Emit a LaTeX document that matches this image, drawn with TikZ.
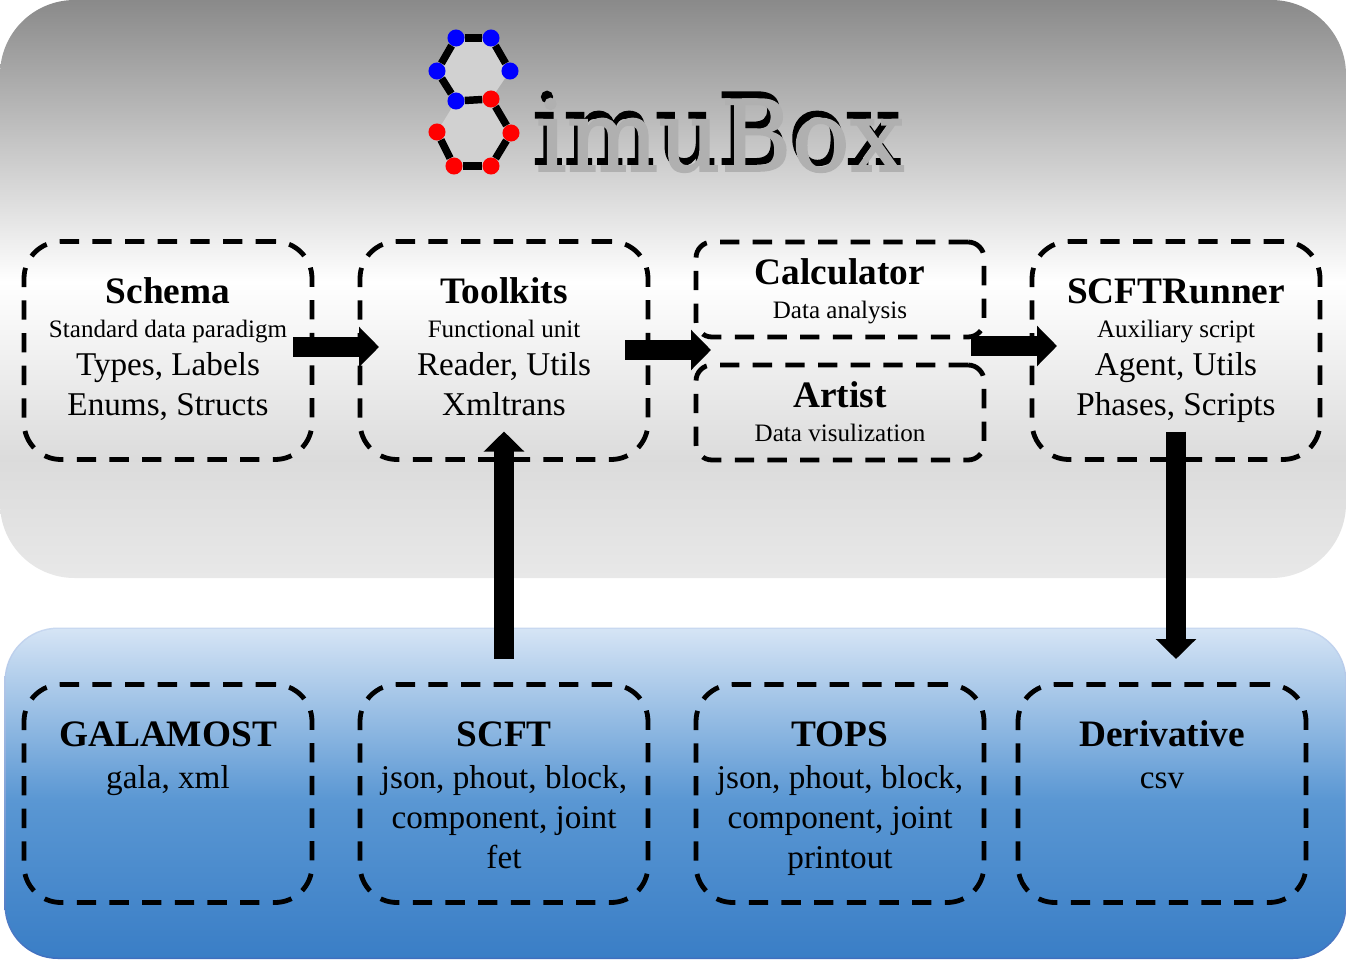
\documentclass[tikz,border=0pt]{standalone}
\usepackage{fontspec}
\setmainfont{Liberation Serif}
\newfontfamily\logofont[FakeBold=1.6]{DejaVu Serif}
\usetikzlibrary{arrows.meta}
\newcommand{\boxtitle}[1]{{\fontsize{28}{30}\bfseries\selectfont\vphantom{hl}#1}}
\newcommand{\boxsmall}[1]{{\fontsize{18.8}{30}\selectfont #1}}
\definecolor{blue1}{HTML}{D5E4F5}
\definecolor{blue2}{HTML}{5A97D3}
\definecolor{blue3}{HTML}{3A7EC6}
\definecolor{edge1}{HTML}{C8D8F0}
\definecolor{edge2}{HTML}{3F6FBF}
\pgfdeclareverticalshading{toppanel}{100bp}{
	color(0bp)=(white!91!black);
	color(25bp)=(white!91!black);
	color(35.2bp)=(white!86!black);
	color(50.6bp)=(white);
	color(75bp)=(white!54!black);
	color(100bp)=(white!54!black)}
\pgfdeclareverticalshading{bottompanel}{100bp}{
	color(0bp)=(blue3);
	color(25bp)=(blue3);
	color(49bp)=(blue2);
	color(75bp)=(blue1);
	color(100bp)=(blue1)}
\pgfdeclareverticalshading{bottomedge}{100bp}{
	color(0bp)=(edge2);
	color(25bp)=(edge2);
	color(75bp)=(edge1);
	color(100bp)=(edge1)}
\begin{document}
\begin{tikzpicture}[x=.75pt,y=-.75pt,
	dashbox/.style={draw,outer sep=0pt,line width=3.6pt,dash pattern=on 14.5pt off 10pt,rounded corners=27.75pt,minimum width=288*.75pt,minimum height=218*.75pt},
	halfbox/.style={dashbox,rounded corners=12pt,minimum height=95*.75pt},
	boxtext/.style={anchor=north,inner sep=0pt,align=center,font=\fontsize{24.9}{30}\selectfont},
	bigarrow/.style={line width=15pt,-{Triangle[width=29.5pt,length=15pt]}},
	blueatom/.style={circle,fill=blue,inner sep=0pt,minimum size=12.8pt},
	redatom/.style={circle,fill=red,inner sep=0pt,minimum size=12.8pt},
	bond/.style={line width=5.6pt},
	logotext/.style={inner sep=0pt,anchor=base west,xscale=.98,font=\fontsize{74}{80}\logofont}]
	\useasboundingbox (0,0) rectangle (1348,960);
	\fill[white] (0,0) rectangle (1348,960);
	\shade[shading=toppanel,rounded corners=56pt] (0,0) rectangle (1346,578);
	\shade[shading=bottomedge,rounded corners=40pt] (4.5,627.5) rectangle (1346.5,959);
	\shade[shading=bottompanel,rounded corners=39pt] (6,629) rectangle (1345,957.5);

	\fill[white!82!black] (456,38)--(491,38)--(510,71)--(491,99)--(511,133)--(491,166)--(454,166)--(437,132)--(456,101)--(437,71)--cycle;
	\node[blueatom] (a1) at (456,38) {};
	\node[blueatom] (a2) at (491,38) {};
	\node[blueatom] (a3) at (510,71) {};
	\node[blueatom] (a4) at (437,71) {};
	\node[blueatom] (a5) at (456,101) {};
	\node[redatom] (b1) at (491,99) {};
	\node[redatom] (b2) at (511,133) {};
	\node[redatom] (b3) at (491,166) {};
	\node[redatom] (b4) at (454,166) {};
	\node[redatom] (b5) at (437,132) {};
	\path[bond] (a1) edge (a2) (a2) edge (a3) (a1) edge (a4) (a4) edge (a5) (a5) edge (b1)
		(b1) edge (b2) (b2) edge (b3) (b3) edge (b4) (b4) edge (b5);
	\node[logotext] (logoback) at (532,164) {imuBox};
	\node[logotext,text=white!69!black] (logofront) at (535.5,171) {imuBox};

	\node[dashbox] (schema) at (168,350.5) {};
	\node[dashbox] (toolkits) at (504,350.5) {};
	\node[halfbox] (calculator) at (840,289.5) {};
	\node[halfbox] (artist) at (840,412.5) {};
	\node[dashbox] (runner) at (1176,350.5) {};
	\node[dashbox] (galamost) at (168,793.5) {};
	\node[dashbox] (scft) at (504,793.5) {};
	\node[dashbox] (tops) at (840,793.5) {};
	\node[dashbox] (derivative) at (1162,793.5) {};
	\coordinate (derivativein) at (1176,659);

	\node[boxtext] (schematext) at ([yshift=-27pt]schema.north) {\boxtitle{Schema}\\[-4.5pt]\boxsmall{Standard data paradigm}\\[-1.6pt]Types, Labels\\Enums, Structs};
	\node[boxtext] (toolkitstext) at ([yshift=-27pt]toolkits.north) {\boxtitle{Toolkits}\\[-4.5pt]\boxsmall{Functional unit}\\[-1.6pt]Reader, Utils\\Xmltrans};
	\node[boxtext] (calculatortext) at ([yshift=-12pt]calculator.north) {\boxtitle{Calculator}\\[-4.5pt]\boxsmall{Data analysis}};
	\node[boxtext] (artisttext) at ([yshift=-12pt]artist.north) {\boxtitle{Artist}\\[-4.5pt]\boxsmall{Data visulization}};
	\node[boxtext] (runnertext) at ([yshift=-27pt]runner.north) {\boxtitle{SCFTRunner}\\[-4.5pt]\boxsmall{Auxiliary script}\\[-1.6pt]Agent, Utils\\Phases, Scripts};
	\node[boxtext] (galamosttext) at ([yshift=-27pt]galamost.north) {\boxtitle{GALAMOST}\\[1pt]gala, xml};
	\node[boxtext] (scfttext) at ([yshift=-27pt]scft.north) {\boxtitle{SCFT}\\[1pt]json, phout, block,\\component, joint\\fet};
	\node[boxtext] (topstext) at ([yshift=-27pt]tops.north) {\boxtitle{TOPS}\\[1pt]json, phout, block,\\component, joint\\printout};
	\node[boxtext] (derivativetext) at ([yshift=-27pt]derivative.north) {\boxtitle{Derivative}\\[1pt]csv};

	\path[bigarrow]
		([shift={(-19,-3.5)}]schema.east) edge ([shift={(19,-3.5)}]toolkits.west)
		([shift={(-23,-0.5)}]toolkits.east) edge ([shift={(15,60.5)}]calculator.west)
		([shift={(-13,56.5)}]calculator.east) edge ([shift={(25,-4.5)}]runner.west)
		([yshift=19.5pt]scft.north) edge ([yshift=21pt]toolkits.south)
		([yshift=21pt]runner.south) edge (derivativein);
\end{tikzpicture}
\end{document}
